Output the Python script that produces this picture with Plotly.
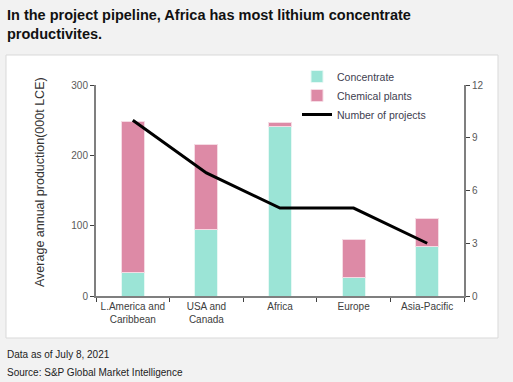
import plotly.graph_objects as go

categories = ["L.America and<br>Caribbean", "USA and<br>Canada", "Africa", "Europe", "Asia-Pacific"]
concentrate = [34, 94, 241, 26, 70]
chemical_plants = [214, 122, 5, 54, 40]
num_projects = [10, 7, 5, 5, 3]

W, H = 513, 382
L, R, T, B = 96, 464, 85, 296

def px(x):
    return (x - L) / (R - L)

def py(y):
    return (B - y) / (B - T)

fig = go.Figure()
fig.add_trace(go.Bar(x=categories, y=concentrate, name="Concentrate",
                     marker=dict(color="#9be4d6", line=dict(color="#e6f8f4", width=1)), width=0.31))
fig.add_trace(go.Bar(x=categories, y=chemical_plants, name="Chemical plants",
                     marker=dict(color="#dd8aa6", line=dict(color="#f5dbe4", width=1)), width=0.31))
fig.add_trace(go.Scatter(x=categories, y=num_projects, name="Number of projects", yaxis="y2",
                         mode="lines", line=dict(color="black", width=3)))

font = "Liberation Sans, Arial, sans-serif"
fig.update_layout(
    width=W, height=H,
    margin=dict(l=L, r=W - R, t=T, b=H - B),
    paper_bgcolor="#f2f2f2", plot_bgcolor="white",
    barmode="stack", showlegend=True,
    font=dict(family=font, size=10, color="#404040"),
    legend=dict(x=px(297), y=py(62), xanchor="left", yanchor="top",
                bgcolor="rgba(0,0,0,0)", font=dict(size=10.5, color="#404050"),
                itemwidth=30, tracegroupgap=0, traceorder="normal"),
    xaxis=dict(type="category", showline=True, linecolor="#7f7f7f", linewidth=2,
               ticks="outside", tickson="boundaries", ticklen=4, tickcolor="#404040",
               tickfont=dict(size=10, color="#404040"), showgrid=False),
    yaxis=dict(range=[0, 300], tickvals=[0, 100, 200, 300], showline=True, linecolor="#7f7f7f",
               linewidth=2, ticks="outside", ticklen=4, tickcolor="#404040", showgrid=False,
               zeroline=False, tickfont=dict(size=10, color="#595959")),
    yaxis2=dict(range=[0, 12], tickvals=[0, 3, 6, 9, 12], overlaying="y", side="right",
                showline=True, linecolor="#7f7f7f", linewidth=2, ticks="outside", ticklen=4,
                tickcolor="#404040", showgrid=False, zeroline=False,
                tickfont=dict(size=10, color="#595959")),
    shapes=[dict(type="rect", xref="paper", yref="paper", x0=px(6), x1=px(498), y0=py(338), y1=py(55),
                 fillcolor="white", line=dict(color="#d9d9d9", width=1), layer="below")],
    annotations=[
        dict(text="<b>In the project pipeline, Africa has most lithium concentrate<br>productivites.</b>",
             xref="paper", yref="paper", x=px(5), y=py(5), xanchor="left", yanchor="top",
             align="left", showarrow=False, font=dict(size=14.5, color="#111111", family=font)),
        dict(text="Average annual production(000t LCE)", textangle=-90, xref="paper", yref="paper",
             x=px(40), y=py(182), xanchor="center", yanchor="middle", showarrow=False,
             font=dict(size=12.5, color="#333333")),
        dict(text="Data as of July 8, 2021", xref="paper", yref="paper", x=px(5), y=py(354),
             xanchor="left", yanchor="middle", showarrow=False, font=dict(size=10, color="#222222")),
        dict(text="Source: S&P Global Market Intelligence", xref="paper", yref="paper", x=px(5), y=py(372),
             xanchor="left", yanchor="middle", showarrow=False, font=dict(size=10, color="#222222")),
    ],
)

fig.write_html("out.html", config={"displayModeBar": False},
               post_script="document.body.style.margin='0';document.body.style.overflow='hidden';")
